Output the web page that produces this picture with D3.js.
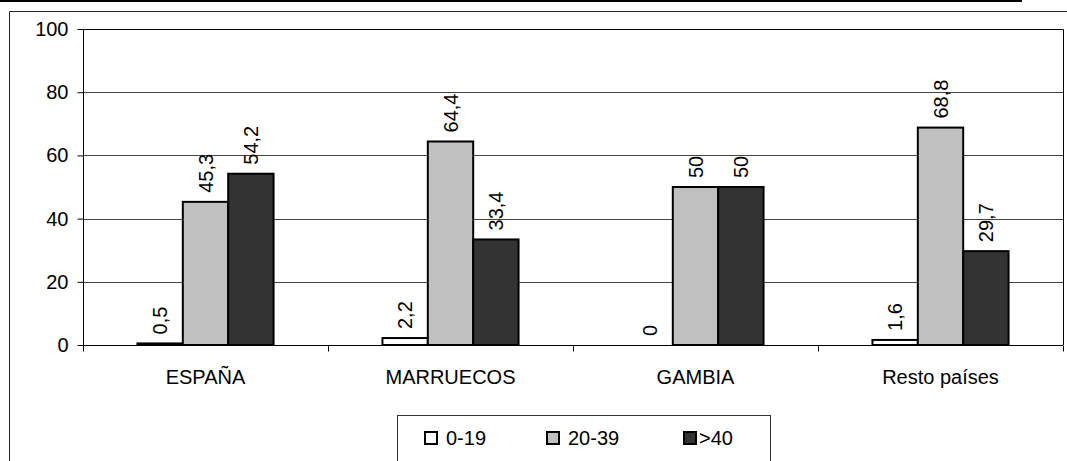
<!DOCTYPE html>
<html><head><meta charset="utf-8">
<script src="https://cdn.jsdelivr.net/npm/d3@7"></script>
<style>body{margin:0;background:#fff}svg{display:block}text{font-family:"Liberation Sans",Arial,sans-serif;fill:#000}</style>
</head><body>
<script>
const categories = ["ESPAÑA", "MARRUECOS", "GAMBIA", "Resto países"];
const seriesNames = ["0-19", "20-39", ">40"];
const v0_19 = [0.5, 2.2, 0, 1.6];
const v20_39 = [45.3, 64.4, 50, 68.8];
const v40 = [54.2, 33.4, 50, 29.7];
const yTicks = [0, 20, 40, 60, 80, 100];
const colors = ["#ffffff", "#c0c0c0", "#333333"];
const seriesValues = [v0_19, v20_39, v40];

const W = 1067, H = 461;
const svg = d3.select("body").append("svg").attr("width", W).attr("height", H);
const fs = 20;

// page line & chart frame
svg.append("line").attr("x1",0).attr("x2",1022).attr("y1",1).attr("y2",1).attr("stroke","#000").attr("stroke-width",2);
svg.append("line").attr("x1",9.5).attr("x2",W).attr("y1",11.5).attr("y2",11.5).attr("stroke","#222").attr("stroke-width",1);
svg.append("line").attr("x1",9.5).attr("x2",9.5).attr("y1",11.5).attr("y2",H).attr("stroke","#222").attr("stroke-width",1);

const plot = {l:83, r:1063, t:29, b:345};
const x0 = d3.scaleBand().domain(categories).range([plot.l, plot.r]).padding(0);
const x1 = d3.scaleBand().domain(seriesNames).range([0, x0.bandwidth()]).paddingInner(0).paddingOuter(1.2);
const y = d3.scaleLinear().domain([0,100]).range([plot.b, plot.t]);

// gridlines
svg.append("g").selectAll("line").data(yTicks.filter(d=>d>0 && d<100)).join("line")
  .attr("x1",plot.l).attr("x2",plot.r).attr("y1",d=>Math.round(y(d))+0.5).attr("y2",d=>Math.round(y(d))+0.5)
  .attr("stroke","#444").attr("stroke-width",1);
// plot border top/right
svg.append("path").attr("d",`M${plot.l},${plot.t+0.5}H${plot.r+0.5}V${plot.b}`).attr("fill","none").attr("stroke","#000").attr("stroke-width",1);

// bars
const data = [];
categories.forEach((c,i)=>seriesNames.forEach((s,j)=>data.push({c,s,j,v:seriesValues[j][i]})));
const gBars = svg.append("g");
gBars.selectAll("rect").data(data.filter(d=>d.v>0)).join("rect")
  .attr("x",d=>x0(d.c)+x1(d.s)).attr("width",x1.bandwidth())
  .attr("y",d=>y(d.v)).attr("height",d=>y(0)-y(d.v))
  .attr("fill",d=>colors[d.j]).attr("stroke","#000").attr("stroke-width",2);

// value labels
svg.append("g").selectAll("text").data(data).join("text")
  .attr("transform",d=>`translate(${x0(d.c)+x1(d.s)+x1.bandwidth()/2},${y(d.v)-9}) rotate(-90)`)
  .attr("dy","0.35em").attr("text-anchor","start").attr("font-size",fs)
  .text(d=>String(d.v).replace(".",","));

// y axis
const yAxis = d3.axisLeft(y).tickValues(yTicks).tickSize(6).tickPadding(9).tickFormat(d3.format("d"));
const gy = svg.append("g").attr("transform",`translate(${plot.l+0.5},0)`).call(yAxis);
gy.select(".domain").attr("stroke","#000").attr("d",`M0,${plot.t}V${plot.b}`);
gy.selectAll(".tick line").attr("stroke","#000");
gy.selectAll(".tick text").attr("font-size",fs).attr("font-family","Liberation Sans, Arial, sans-serif").attr("fill","#000");

// x axis
const xAxis = d3.axisBottom(x0).tickSize(0).tickPadding(0).tickFormat("");
const gx = svg.append("g").attr("transform",`translate(0,${plot.b+0.5})`).call(xAxis);
gx.select(".domain").attr("stroke","#000").attr("d",`M${plot.l},0H${plot.r}`);
gx.selectAll(".tick").remove();
const bounds = categories.map(c=>x0(c)).concat([plot.r]);
gx.selectAll("line.b").data(bounds).join("line").attr("class","b")
  .attr("x1",d=>Math.round(d)+0.5).attr("x2",d=>Math.round(d)+0.5).attr("y1",0).attr("y2",6).attr("stroke","#000");
svg.append("g").selectAll("text").data(categories).join("text")
  .attr("x",d=>x0(d)+x0.bandwidth()/2).attr("y",384).attr("text-anchor","middle").attr("font-size",fs).text(d=>d);

// legend
svg.append("rect").attr("x",397.5).attr("y",415.5).attr("width",373).attr("height",60).attr("fill","#fff").attr("stroke","#333");
const legX = [425, 547, 684];
const lg = svg.append("g").selectAll("g").data(seriesNames).join("g").attr("transform",(d,i)=>`translate(${legX[i]},0)`);
lg.append("rect").attr("x",0).attr("y",432).attr("width",12).attr("height",12).attr("fill",(d,i)=>colors[i]).attr("stroke","#000").attr("stroke-width",2);
lg.append("text").attr("x",(d,i)=>i==2?15:21).attr("y",445).attr("font-size",fs).text(d=>d);
</script>
</body></html>
